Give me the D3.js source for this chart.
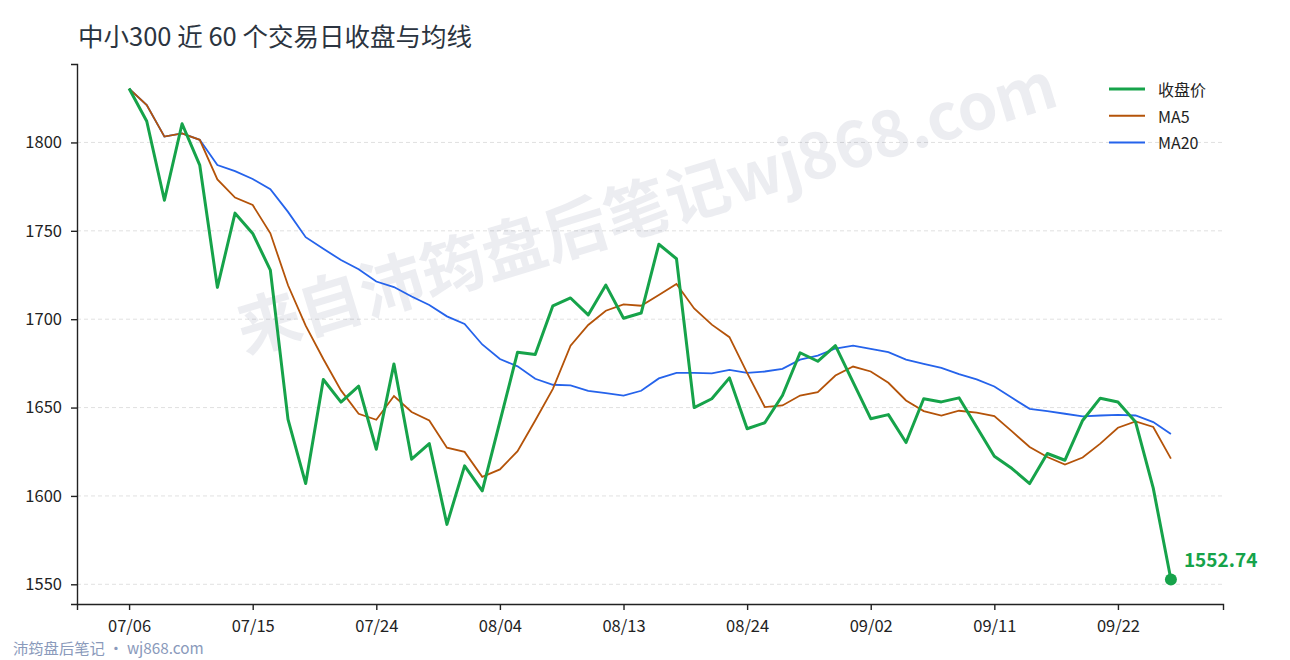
<!DOCTYPE html>
<html>
<head>
<meta charset="utf-8">
<style>
  body { margin: 0; background: #fff; }
  svg { display: block; font-family: "Noto Sans CJK SC", "Noto Sans", sans-serif; }
</style>
</head>
<body>
<svg width="1290" height="660"></svg>
<script src="https://d3js.org/d3.v7.min.js"></script>
<script>

    // 60 trading days
    var dates = ["07/06","07/07","07/08","07/09","07/10","07/13","07/14","07/15","07/16","07/17",
        "07/20","07/21","07/22","07/23","07/24","07/27","07/28","07/29","07/30","07/31",
        "08/03","08/04","08/05","08/06","08/07","08/10","08/11","08/12","08/13","08/14",
        "08/17","08/18","08/19","08/20","08/21","08/24","08/25","08/26","08/27","08/28",
        "08/31","09/01","09/02","09/03","09/04","09/07","09/08","09/09","09/10","09/11",
        "09/14","09/15","09/16","09/17","09/18","09/21","09/22","09/23","09/24","09/25"];

    var close = [1830.5, 1812.0, 1767.3, 1810.6, 1787.2, 1718.0, 1760.0, 1748.5, 1727.8, 1643.3,
        1607.0, 1665.9, 1653.1, 1662.1, 1626.4, 1674.7, 1620.8, 1629.6, 1583.9, 1617.0,
        1602.9, 1642.0, 1681.3, 1680.0, 1707.6, 1712.0, 1702.4, 1719.3, 1700.5, 1703.5,
        1742.4, 1734.2, 1650.0, 1655.0, 1666.8, 1638.0, 1641.4, 1656.8, 1681.0, 1676.2,
        1685.0, 1664.4, 1643.7, 1646.0, 1630.2, 1655.0, 1653.2, 1655.5, 1639.0, 1622.4,
        1615.5, 1607.0, 1624.0, 1620.2, 1642.7, 1655.3, 1653.1, 1641.8, 1604.4, 1552.74];

    var ma5 = [1830.5, 1821.2, 1803.3, 1805.1, 1801.5, 1779.1, 1768.8, 1764.6, 1748.6, 1719.2,
        1696.3, 1677.5, 1659.7, 1646.5, 1643.1, 1656.5, 1647.5, 1642.7, 1627.3, 1624.9,
        1610.8, 1615.0, 1625.3, 1642.7, 1660.6, 1685.0, 1696.7, 1704.8, 1708.4, 1707.6,
        1713.7, 1719.9, 1706.1, 1696.9, 1689.8, 1669.6, 1650.3, 1651.2, 1656.8, 1658.7,
        1668.1, 1673.2, 1670.4, 1664.0, 1654.0, 1648.0, 1645.5, 1648.2, 1647.1, 1645.2,
        1636.5, 1627.7, 1622.0, 1617.7, 1621.7, 1629.6, 1638.6, 1642.2, 1639.0, 1621.1];

    var ma20 = [1830.5, 1821.2, 1803.3, 1805.1, 1801.5, 1787.2, 1783.8, 1779.3, 1773.5, 1760.7,
        1746.4, 1739.8, 1733.5, 1728.3, 1721.3, 1718.2, 1712.8, 1708.0, 1701.6, 1697.3,
        1685.7, 1677.5, 1673.3, 1666.3, 1662.9, 1662.5, 1659.5, 1658.2, 1656.8, 1659.5,
        1666.5, 1669.6, 1669.6, 1669.3, 1671.3, 1669.6, 1670.4, 1671.9, 1677.1, 1679.4,
        1683.4, 1685.0, 1683.2, 1681.3, 1677.1, 1674.7, 1672.4, 1668.9, 1665.9, 1661.9,
        1655.5, 1649.3, 1648.0, 1646.5, 1645.0, 1645.5, 1645.9, 1645.5, 1641.8, 1635.0];

    var yTicks = [1550, 1600, 1650, 1700, 1750, 1800];
    var xTickEvery = 7;

    var svg = d3.select("svg"),
        margin = {top: 64, right: 67, bottom: 56, left: 77},
        width = +svg.attr("width") - margin.left - margin.right,
        height = +svg.attr("height") - margin.top - margin.bottom;

    var n = close.length;
    var lo = d3.min([close, ma5, ma20].flat()), hi = d3.max([close, ma5, ma20].flat());
    var padY = (hi - lo) * 0.05, padX = (n - 1) * 0.05;

    var x = d3.scaleLinear().domain([-padX, n - 1 + padX]).range([0, width]);
    var y = d3.scaleLinear().domain([lo - padY, hi + padY]).range([height, 0]);

    // title
    svg.append("text")
        .attr("x", 78).attr("y", 46)
        .attr("fill", "#2b3440")
        .style("font-size", "25.5px")
        .text("中小300 近 60 个交易日收盘与均线");

    var g = svg.append("g").attr("transform", "translate(" + margin.left + "," + margin.top + ")");

    // grid
    g.append("g")
        .selectAll("line")
        .data(yTicks)
        .join("line")
        .attr("x1", 0).attr("x2", width)
        .attr("y1", function(d) { return y(d); })
        .attr("y2", function(d) { return y(d); })
        .attr("stroke", "#d9d9d9")
        .attr("stroke-width", 0.8)
        .attr("stroke-dasharray", "4,3");

    // watermark
    g.append("text")
        .attr("transform", "translate(" + (645 - margin.left) + "," + (203 - margin.top) + ") rotate(-17)")
        .attr("text-anchor", "middle")
        .attr("dominant-baseline", "central")
        .attr("fill", "#2a3a66")
        .attr("fill-opacity", 0.09)
        .style("font-size", "64px")
        .style("font-weight", "bold")
        .text("来自沛筠盘后笔记wj868.com");

    var line = function(arr) {
        return d3.line()
            .x(function(d, i) { return x(i); })
            .y(function(d) { return y(d); })(arr);
    };

    g.append("path").attr("d", line(ma20))
        .attr("fill", "none").attr("stroke", "#2563eb").attr("stroke-width", 1.8);
    g.append("path").attr("d", line(ma5))
        .attr("fill", "none").attr("stroke", "#b45309").attr("stroke-width", 1.8);
    g.append("path").attr("d", line(close))
        .attr("fill", "none").attr("stroke", "#16a34a").attr("stroke-width", 3)
        .attr("stroke-linejoin", "round");

    // last point
    var last = n - 1;
    g.append("circle")
        .attr("cx", x(last)).attr("cy", y(close[last])).attr("r", 6)
        .attr("fill", "#16a34a");
    g.append("text")
        .attr("x", x(last) + 13).attr("y", y(close[last]) - 12)
        .attr("fill", "#16a34a")
        .style("font-size", "19px").style("font-weight", "bold")
        .text(close[last].toFixed(2));

    // axes
    var xTickVals = d3.range(0, n, xTickEvery);
    var xAxis = g.append("g")
        .attr("transform", "translate(0," + height + ")")
        .call(d3.axisBottom(x).tickValues(xTickVals)
            .tickFormat(function(i) { return dates[i]; })
            .tickSize(6).tickPadding(10));

    var yAxis = g.append("g")
        .call(d3.axisLeft(y).tickValues(yTicks).tickFormat(d3.format("d"))
            .tickSize(6).tickPadding(9));

    [xAxis, yAxis].forEach(function(a) {
        a.select(".domain").attr("stroke", "#222").attr("stroke-width", 1.4);
        a.selectAll(".tick line").attr("stroke", "#222").attr("stroke-width", 1.4);
        a.selectAll(".tick text").attr("fill", "#222")
            .style("font-size", "16.5px")
            .style("font-family", "'Noto Sans CJK SC', sans-serif");
    });

    // legend
    var legend = svg.append("g").attr("transform", "translate(1109,89)");
    var items = [["收盘价", "#16a34a", 3.2], ["MA5", "#b45309", 2], ["MA20", "#2563eb", 2]];
    items.forEach(function(it, i) {
        var row = legend.append("g").attr("transform", "translate(0," + (i * 26.7) + ")");
        row.append("line").attr("x1", 0).attr("x2", 36)
            .attr("stroke", it[1]).attr("stroke-width", it[2]);
        row.append("text").attr("x", 49).attr("y", 0)
            .attr("dominant-baseline", "central")
            .attr("fill", "#222")
            .style("font-size", "16px")
            .text(it[0]);
    });

    // footer
    svg.append("text")
        .attr("x", 13).attr("y", 654)
        .attr("fill", "#8a9abb")
        .style("font-size", "15.3px")
        .text("沛筠盘后笔记 · wj868.com");

</script>
</body>
</html>
